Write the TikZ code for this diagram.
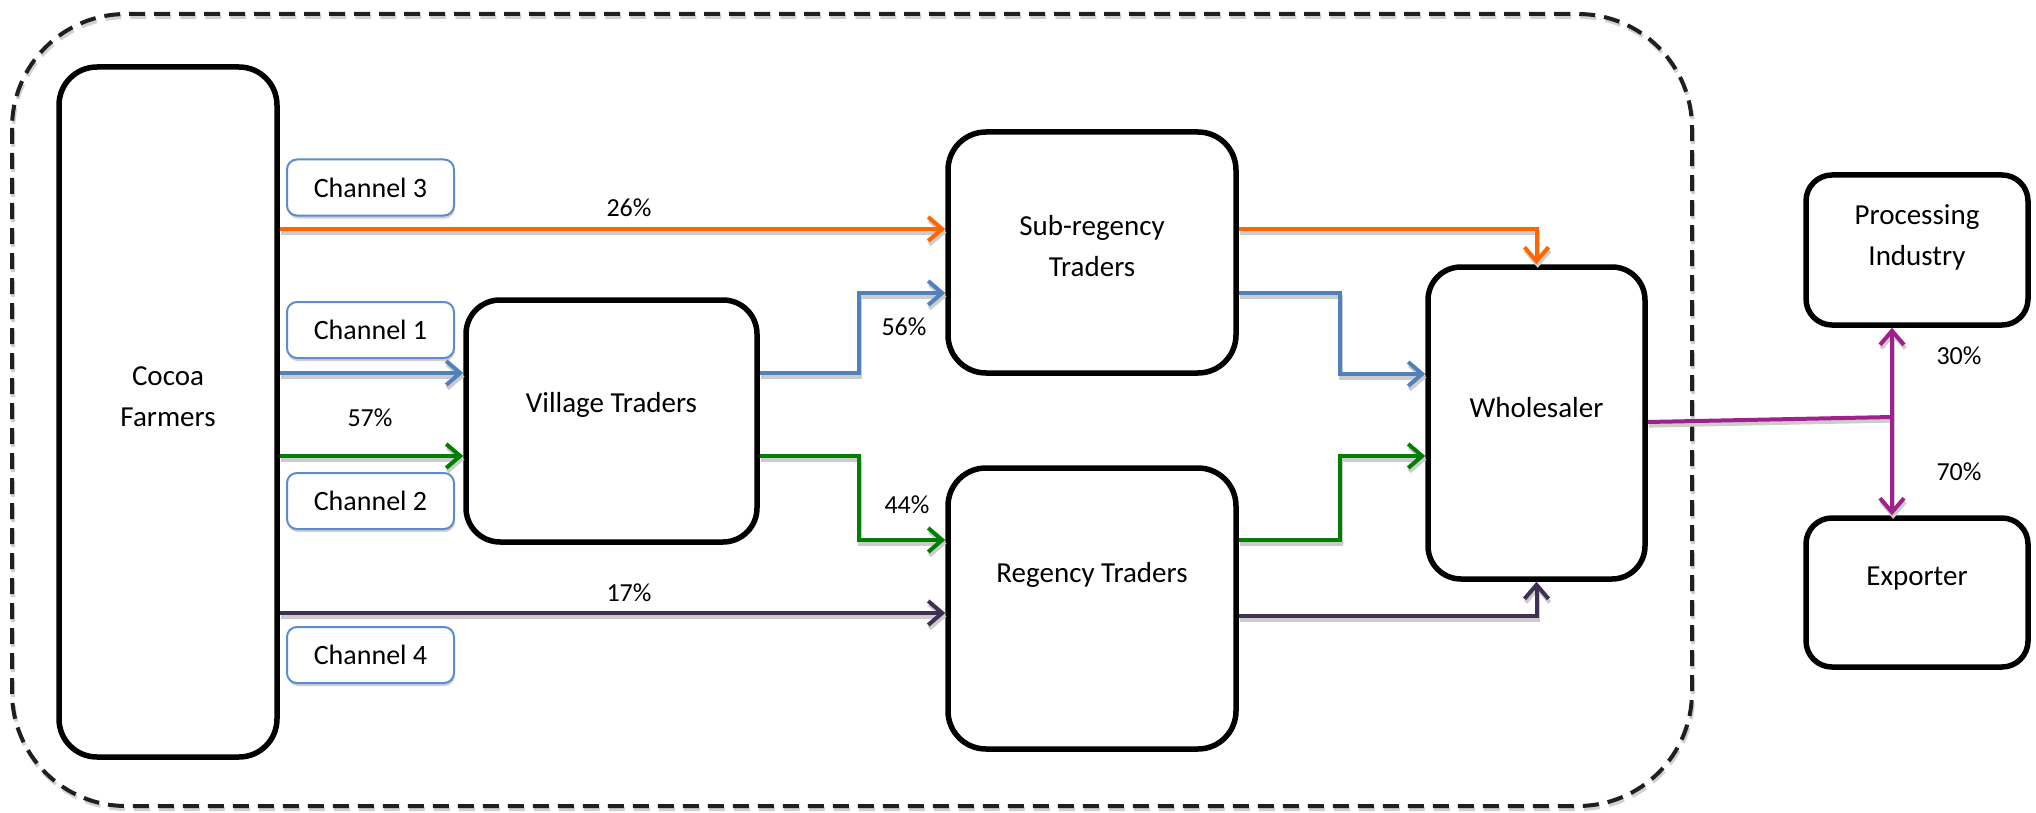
\documentclass[tikz,border=0pt]{standalone}
\usepackage{fontspec}
\setmainfont{Carlito}
\usetikzlibrary{arrows.meta,shadows}
\definecolor{cOr}{HTML}{FF6600}
\definecolor{cBl}{HTML}{4F81BD}
\definecolor{cGr}{HTML}{008000}
\definecolor{cPu}{HTML}{403152}
\definecolor{cMa}{HTML}{A0208E}
\definecolor{cCh}{HTML}{5B8CD0}
\tikzset{
 box/.style={draw=black, line width=2.75pt, fill=white, rounded corners=#1, inner sep=0pt},
 chbox/.style={draw=cCh, line width=1pt, fill=white, rounded corners=5pt, minimum width=83.5pt, minimum height=28pt, inner sep=0pt, font=\fontsize{14}{16}\selectfont, drop shadow={shadow xshift=0.4pt, shadow yshift=-1.5pt, fill=black!18, opacity=1}},
 txt/.style={font=\fontsize{14.5}{20.5}\selectfont, align=center, inner sep=0pt},
 pct/.style={font=\fontsize{13}{15}\selectfont, inner sep=0pt},
 conn/.style={line width=2pt, preaction={draw=black!20, line width=2pt, transform canvas={shift={(0.6pt,-1.8pt)}}}},
 arr/.style={-{Straight Barb[length=7pt,width=12pt]}},
 arrboth/.style={{Straight Barb[length=7pt,width=12pt]}-{Straight Barb[length=7pt,width=12pt]}},
}
\begin{document}
\begin{tikzpicture}[x=0.5pt,y=-0.5pt]
\useasboundingbox (0,0) rectangle (2036,813);
% frame
\draw[line width=2pt, draw=black!88, dash pattern=on 8pt off 4.5pt, rounded corners=57pt,
  preaction={draw=black!18, line width=2pt, dash pattern=on 8pt off 4.5pt, transform canvas={shift={(0.6pt,-1.5pt)}}}]
  (12,14) rectangle (1692,806);
% boxes
\node[box=19pt, minimum width=109pt, minimum height=345pt] (cocoa) at (168,412) {};
\node[txt] (cocoaT) at (168,397) {Cocoa\\Farmers};
\node[box=17pt, minimum width=145.5pt, minimum height=121pt] (village) at (611.5,421) {};
\node[txt] (villageT) at (611.5,405) {Village Traders};
\node[box=19pt, minimum width=144pt, minimum height=120.5pt] (subreg) at (1092,252.5) {};
\node[txt] (subregT) at (1092,246) {Sub-regency\\Traders};
\node[box=19pt, minimum width=144pt, minimum height=140.5pt] (regency) at (1092,608.5) {};
\node[txt] (regencyT) at (1092,575) {Regency Traders};
\node[box=16.5pt, minimum width=108.5pt, minimum height=156pt] (wholesaler) at (1536.5,423) {};
\node[txt] (wholesalerT) at (1536.5,408) {Wholesaler};
\node[box=13pt, minimum width=111pt, minimum height=75pt] (processing) at (1917,250) {};
\node[txt] (processingT) at (1917,237) {Processing\\Industry};
\node[box=13pt, minimum width=111pt, minimum height=74.5pt] (exporter) at (1917,592.5) {};
\node[txt] (exporterT) at (1917,579) {Exporter};
% channel boxes
\node[chbox] (ch3) at (370.5,187.5) {Channel 3};
\node[chbox] (ch1) at (370.5,330) {Channel 1};
\node[chbox] (ch2) at (370.5,501) {Channel 2};
\node[chbox] (ch4) at (370.5,655) {Channel 4};
% coordinates
\coordinate (yO) at (0,229);
\coordinate (yB1) at (0,373);
\coordinate (yG1) at (0,456);
\coordinate (yP1) at (0,613);
\coordinate (yP2) at (0,616);
\coordinate (yM) at (0,422);
\coordinate (bA) at (859,293);
\coordinate (bB) at (1340,374);
\coordinate (gA) at (859,540);
\coordinate (gB) at (1340,456);
\coordinate (mj) at (1892,417);
% orange
\draw[conn, cOr, arr] (cocoa.east |- yO) -- (subreg.west |- yO);
\draw[conn, cOr, arr] (subreg.east |- yO) -| (wholesaler.north);
% blue
\draw[conn, cBl, arr] (cocoa.east |- yB1) -- (village.west |- yB1);
\draw[conn, cBl, arr] (village.east |- yB1) -| (bA) -- (subreg.west |- bA);
\draw[conn, cBl, arr] (subreg.east |- bA) -| (bB) -- (wholesaler.west |- bB);
% green
\draw[conn, cGr, arr] (cocoa.east |- yG1) -- (village.west |- yG1);
\draw[conn, cGr, arr] (village.east |- yG1) -| (gA) -- (regency.west |- gA);
\draw[conn, cGr, arr] (regency.east |- gA) -| (gB) -- (wholesaler.west |- gB);
% purple
\draw[conn, cPu, arr] (cocoa.east |- yP1) -- (regency.west |- yP1);
\draw[conn, cPu, arr] (regency.east |- yP2) -| (wholesaler.south);
% magenta
\draw[conn, cMa] (wholesaler.east |- yM) -- (mj);
\draw[conn, cMa, arrboth] (processing.south -| mj) -- (exporter.north -| mj);
% percentages
\node[pct] (p26) at (629,208) {26\%};
\node[pct] (p17) at (629,593) {17\%};
\node[pct] (p57) at (370,418) {57\%};
\node[pct] (p56) at (904,327) {56\%};
\node[pct] (p44) at (907,505) {44\%};
\node[pct] (p30) at (1959,356) {30\%};
\node[pct] (p70) at (1959,472) {70\%};
\end{tikzpicture}
\end{document}
